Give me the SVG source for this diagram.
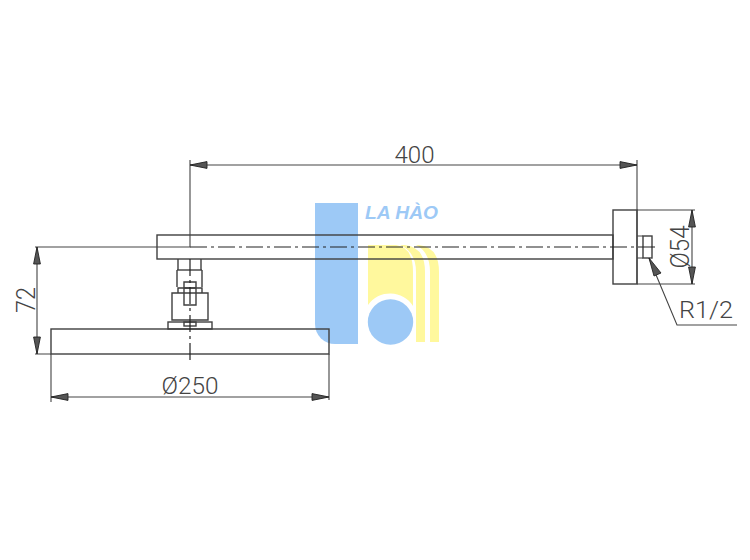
<svg xmlns="http://www.w3.org/2000/svg" width="750" height="560" viewBox="0 0 750 560">
<defs>
<style>
.l{fill:none;stroke:#3f3f3f;stroke-width:1.4}
.d{fill:none;stroke:#444;stroke-width:1.1}
.c{fill:none;stroke:#222;stroke-width:1.2;stroke-dasharray:17 4 3 4}
.t{font-family:Roboto,"Liberation Sans",sans-serif;font-weight:300;font-size:23px;fill:#444;text-anchor:middle}
.a{fill:#555;stroke:#222;stroke-width:.9}
</style>
<path id="ah" class="a" d="M0 0L17 -3.4L17 3.4Z"/>
</defs>
<rect width="750" height="560" fill="#fff"/>
<g id="logo">
<path d="M315 203H358V344H335A20 20 0 0 1 315 324Z" fill="#9dc9f6"/>
<path d="M368 245H396Q413 247 413 272V306A27 27 0 0 0 368 305Z" fill="#fff89d"/>
<path d="M400 245H405Q425 247 425 272V342H416V272Q416 252 400 245Z" fill="#fff89d"/>
<path d="M416 245H419Q439 247 439 272V342H430V272Q430 252 416 245Z" fill="#fff89d"/>
<circle cx="390.500" cy="322" r="22.700" fill="#9dc9f6"/>
<text x="401.500" y="219" font-family="'Liberation Sans',sans-serif" font-size="18" font-weight="700" font-style="italic" fill="#9dc9f6" text-anchor="middle" textLength="73" lengthAdjust="spacingAndGlyphs">LA HÀO</text>
</g>
<g id="arm">
<rect class="l" x="157" y="235" width="456" height="24"/>
</g>
<g id="wall-plate">
<rect class="l" x="613" y="210" width="24" height="74"/>
<path class="d" d="M637 236H643M637 258H643"/>
<rect class="l" x="643" y="236" width="9" height="22" stroke-width="1.800"/>
</g>
<g id="connector-body">
<path class="l" d="M178 259V270M201 259V270M177 270V287M202 270V287"/>
<path class="l" d="M177 270H202" stroke-width="2"/>
<path class="l" d="M184 282H196V305H184ZM184 288H196"/>
<path class="l" d="M178 288H202V293H178ZM172 293H208V320H172Z"/>
<rect class="l" x="168" y="322" width="44" height="7"/>
<rect class="l" x="184" y="322" width="12" height="4"/>
</g>
<g id="shower-head">
<rect class="l" x="51" y="329" width="278" height="25"/>
</g>
<g id="connectors">
<path class="c" d="M190 247H656"/>
<path class="c" d="M190 259V362" stroke-dasharray="10 3 3 3"/>
<path class="d" d="M190 160V247H35M190 165H637M637 160V284M637 210H695M637 284H695M692 210V284M35 354H51M37 247V354M51 354V402M329 354V400M51 397H329M649 258L677 325H737"/>
<use href="#ah" transform="translate(190 165)"/>
<use href="#ah" transform="translate(637 165) rotate(180)"/>
<use href="#ah" transform="translate(37 247) rotate(90)"/>
<use href="#ah" transform="translate(37 354) rotate(-90)"/>
<use href="#ah" transform="translate(51 397)"/>
<use href="#ah" transform="translate(329 397) rotate(180)"/>
<use href="#ah" transform="translate(692 210) rotate(90)"/>
<use href="#ah" transform="translate(692 284) rotate(-90)"/>
<path class="a" d="M649 258L661 273L654 276Z"/>
</g>
<g id="labels">
<text class="t" x="414.500" y="163" textLength="40" lengthAdjust="spacingAndGlyphs">400</text>
<text class="t" x="190" y="394" textLength="57" lengthAdjust="spacingAndGlyphs">Ø250</text>
<text class="t" transform="translate(35 300) rotate(-90)" style="font-size:25px" textLength="26" lengthAdjust="spacingAndGlyphs">72</text>
<text class="t" transform="translate(689 247) rotate(-90)" style="font-size:25px" textLength="43" lengthAdjust="spacingAndGlyphs">Ø54</text>
<text class="t" x="706" y="318" style="font-size:23px" textLength="54" lengthAdjust="spacingAndGlyphs">R1/2</text>
</g>
</svg>
